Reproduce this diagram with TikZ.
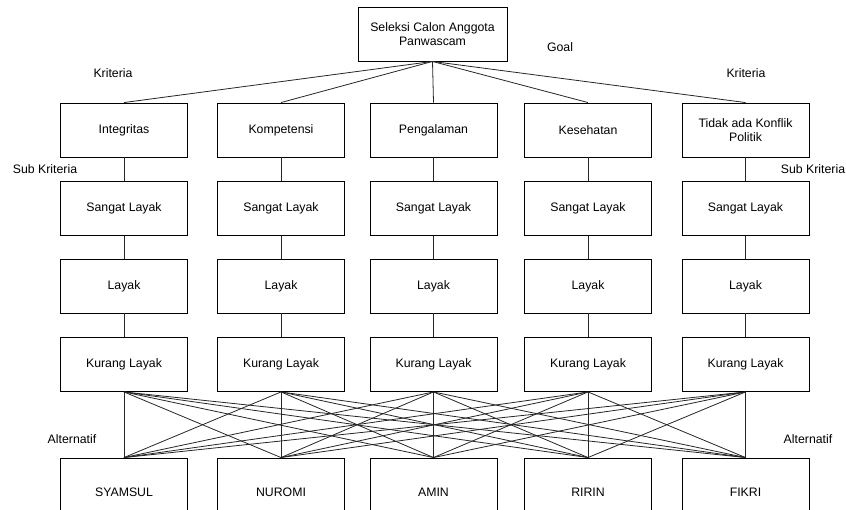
\documentclass[tikz,border=0pt]{standalone}
\usepackage{fontspec}
\setmainfont{Liberation Sans}
\begin{document}
\begin{tikzpicture}[x=1pt,y=-1pt,
  box/.style={draw=black,line width=0.9pt,minimum width=127pt,minimum height=54pt,inner sep=2pt,align=center,font=\fontsize{12.3}{14.5}\selectfont},
  altbox/.style={box,minimum height=68pt},
  lbl/.style={font=\fontsize{12.3}{14.5}\selectfont,inner sep=0pt},
  link/.style={draw=black!85,line width=0.8pt}]
\useasboundingbox (0,0) rectangle (846,510);
\begin{scope}
\clip (0,0) rectangle (846,510);
\node[box,minimum width=149pt] (goal) at (432.5,34) {Seleksi Calon Anggota\\Panwascam};
\foreach \i/\x/\t in {1/124/Integritas,2/281/Kompetensi,3/433.5/Pengalaman,4/588/Kesehatan,5/745.5/{Tidak ada Konflik\\Politik}}{
  \node[box] (k\i) at (\x,130) {\t};
  \node[box] (s\i) at (\x,208.5) {Sangat Layak};
  \node[box] (l\i) at (\x,286) {Layak};
  \node[box] (r\i) at (\x,364.5) {Kurang Layak};
  \draw[link] (goal.south) -- (k\i.north);
  \draw[link] (k\i) -- (s\i);
  \draw[link] (s\i) -- (l\i);
  \draw[link] (l\i) -- (r\i);
}
\foreach \i/\x/\t in {1/124/SYAMSUL,2/281/NUROMI,3/433.5/AMIN,4/588/RIRIN,5/745.5/FIKRI}{
  \node[altbox] (a\i) at (\x,492) {\t};
}
\foreach \i in {1,...,5}{
  \foreach \j in {1,...,5}{
    \draw[link] (r\i.south) -- (a\j.north);
  }
}
\node[lbl] (goallbl) at (560,47) {Goal};
\node[lbl] (krl) at (113,73) {Kriteria};
\node[lbl] (krr) at (746,73) {Kriteria};
\node[lbl] (skl) at (45,169) {Sub Kriteria};
\node[lbl] (skr) at (813,169) {Sub Kriteria};
\node[lbl] (all) at (72,439) {Alternatif};
\node[lbl] (alr) at (808,439) {Alternatif};
\end{scope}
\end{tikzpicture}
\end{document}
